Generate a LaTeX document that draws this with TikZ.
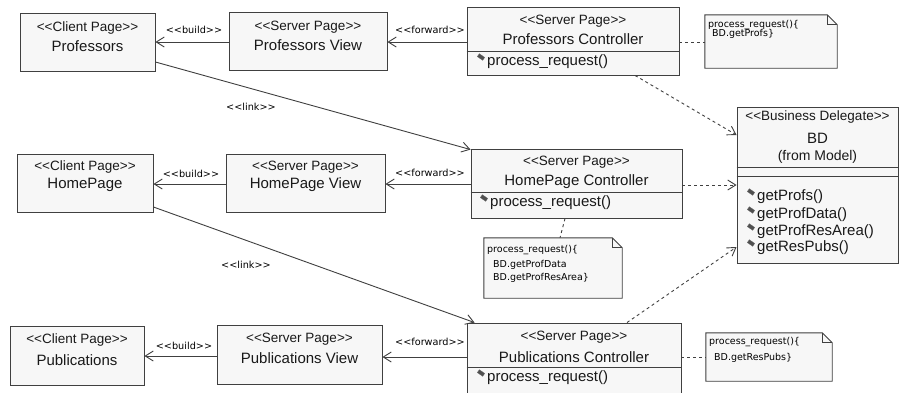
\documentclass[tikz,border=0pt]{standalone}
\usepackage{fontspec}
\usetikzlibrary{arrows.meta}
\newfontfamily\nmfont{Liberation Sans}
\newfontfamily\smfont{DejaVu Sans}
\definecolor{bg}{HTML}{F7F7F7}
\definecolor{lc}{HTML}{404040}
\definecolor{ic}{HTML}{505050}
\tikzset{
  box/.style={draw=lc, fill=bg, line width=0.9pt, inner sep=0pt, rectangle},
  st/.style={font=\nmfont\fontsize{13.5}{15}\selectfont, inner sep=0pt, text=black!90},
  nm/.style={font=\nmfont\fontsize{15}{17}\selectfont, inner sep=0pt, text=black!90},
  mt/.style={font=\nmfont\fontsize{15}{17}\selectfont, inner sep=0pt, anchor=west, text=black!90},
  sm/.style={font=\smfont\fontsize{9.7}{11}\selectfont, inner sep=0pt, text=black},
  nt/.style={font=\smfont\fontsize{9.5}{11}\selectfont, inner sep=0pt, anchor=west, text=black},
  icon/.style={fill=ic, draw=black!60, line width=0.3pt, minimum width=6.5pt, minimum height=3.5pt, inner sep=0pt, rotate=-35},
  notebg/.style={rectangle, inner sep=0pt, draw=none},
  noteline/.style={draw=lc, fill=bg, line width=0.9pt, line join=miter},
  arr/.style={draw=lc, line width=0.9pt, -{Straight Barb[length=8pt,width=10pt]}},
  darr/.style={draw=lc, line width=0.9pt, dash pattern=on 3pt off 3pt, -{Straight Barb[length=8pt,width=10pt]}},
  dln/.style={draw=lc, line width=0.9pt, dash pattern=on 3pt off 3pt},
  sep/.style={draw=lc, line width=0.9pt}
}
\begin{document}
\begin{tikzpicture}[x=1pt,y=-1pt]
\useasboundingbox[fill=white] (0,0) rectangle (905,392);
% ---- row 1
\node[box, minimum width=135, minimum height=58] (cp1) at (87.5,42) {};
\node[st] (cp1s) at (87.5,28) {<<Client Page>>};
\node[nm] (cp1n) at (87.5,46) {Professors};
\node[box, minimum width=158, minimum height=58] (sv1) at (308,41) {};
\node[st] (sv1s) at (308,27) {<<Server Page>>};
\node[nm] (sv1n) at (308,45) {Professors View};
\node[box, minimum width=212, minimum height=68] (ct1) at (573,41) {};
\draw[sep] (ct1.west |- 0,51) coordinate (d1a) -- (ct1.east |- 0,51) coordinate (d1b);
\node[st] (ct1s) at (573,21) {<<Server Page>>};
\node[nm] (ct1n) at (573,39) {Professors Controller};
\node[icon] (ic1) at (481,57) {};
\node[mt] (ct1m) at (487,62) {process\_request()};
% note 1
\node[notebg, minimum width=132, minimum height=53] (n1) at (771,41.5) {};
\draw[noteline] (n1.south west) -- (n1.north west) -- ([xshift=-10pt]n1.north east) -- ([yshift=-10pt]n1.north east) -- (n1.south east) -- cycle;
\draw[sep] ([xshift=-10pt]n1.north east) -- ([xshift=-10pt,yshift=-10pt]n1.north east) -- ([yshift=-10pt]n1.north east);
\node[nt] (n1a) at (708,25) {process\_request()\{};
\node[nt] (n1b) at (712,34) {BD.getProfs\}};
% ---- BD
\node[box, minimum width=161, minimum height=156] (bd) at (817.5,185) {};
\draw[sep] (bd.west |- 0,167) -- (bd.east |- 0,167);
\draw[sep] (bd.west |- 0,176) -- (bd.east |- 0,176);
\node[st] (bds) at (817.5,117) {<<Business Delegate>>};
\node[nm] (bdn) at (817.5,138) {BD};
\node[st, font=\nmfont\fontsize{14}{16}\selectfont] (bdf) at (817.5,157) {(from Model)};
\node[icon] (ib1) at (751,192) {};
\node[mt] (bm1) at (757,197) {getProfs()};
\node[icon] (ib2) at (751,210) {};
\node[mt] (bm2) at (757,215) {getProfData()};
\node[icon] (ib3) at (751,227) {};
\node[mt] (bm3) at (757,232) {getProfResArea()};
\node[icon] (ib4) at (751,243) {};
\node[mt] (bm4) at (757,248) {getResPubs()};
% ---- row 2
\node[box, minimum width=136, minimum height=58] (cp2) at (85,183) {};
\node[st] (cp2s) at (85,167) {<<Client Page>>};
\node[nm] (cp2n) at (85,185) {HomePage};
\node[box, minimum width=159, minimum height=58] (sv2) at (305.5,183) {};
\node[st] (sv2s) at (305.5,167) {<<Server Page>>};
\node[nm] (sv2n) at (305.5,185) {HomePage View};
\node[box, minimum width=211, minimum height=69] (ct2) at (576.5,183.5) {};
\draw[sep] (ct2.west |- 0,192) -- (ct2.east |- 0,192);
\node[st] (ct2s) at (576.5,162) {<<Server Page>>};
\node[nm] (ct2n) at (576.5,182) {HomePage Controller};
\node[icon] (ic2) at (484,198) {};
\node[mt] (ct2m) at (490,203) {process\_request()};
% note 2
\node[notebg, minimum width=138, minimum height=60] (n2) at (553,268) {};
\draw[noteline] (n2.south west) -- (n2.north west) -- ([xshift=-10pt]n2.north east) -- ([yshift=-10pt]n2.north east) -- (n2.south east) -- cycle;
\draw[sep] ([xshift=-10pt]n2.north east) -- ([xshift=-10pt,yshift=-10pt]n2.north east) -- ([yshift=-10pt]n2.north east);
\node[nt] (n2a) at (487,250) {process\_request()\{};
\node[nt] (n2b) at (493,265) {BD.getProfData};
\node[nt] (n2c) at (493,278) {BD.getProfResArea\}};
% ---- row 3
\node[box, minimum width=134, minimum height=59] (cp3) at (77,355.5) {};
\node[st] (cp3s) at (77,340) {<<Client Page>>};
\node[nm] (cp3n) at (77,360) {Publications};
\node[box, minimum width=165, minimum height=59] (sv3) at (299.5,354.5) {};
\node[st] (sv3s) at (299.5,339) {<<Server Page>>};
\node[nm] (sv3n) at (299.5,358) {Publications View};
\node[box, minimum width=214, minimum height=77] (ct3) at (574,361.5) {};
\draw[sep] (ct3.west |- 0,367) -- (ct3.east |- 0,367);
\node[st] (ct3s) at (574,337) {<<Server Page>>};
\node[nm] (ct3n) at (574,357) {Publications Controller};
\node[icon] (ic3) at (481,373) {};
\node[mt] (ct3m) at (487,378) {process\_request()};
% note 3
\node[notebg, minimum width=126, minimum height=48] (n3) at (769,357) {};
\draw[noteline] (n3.south west) -- (n3.north west) -- ([xshift=-10pt]n3.north east) -- ([yshift=-10pt]n3.north east) -- (n3.south east) -- cycle;
\draw[sep] ([xshift=-10pt]n3.north east) -- ([xshift=-10pt,yshift=-10pt]n3.north east) -- ([yshift=-10pt]n3.north east);
\node[nt] (n3a) at (709,342) {process\_request()\{};
\node[nt] (n3b) at (714,358) {BD.getResPubs\}};
% ---- connectors
\draw[arr] ([yshift=-1pt]sv1.west) -- ([yshift=-1pt]sv1.west -| cp1.east);
\draw[arr] ([yshift=-1pt]sv1.east -| ct1.west) -- ([yshift=-1pt]sv1.east);
\draw[arr] ([yshift=-1pt]sv2.west) -- ([yshift=-1pt]sv2.west -| cp2.east);
\draw[arr] ([yshift=-1pt]sv2.east -| ct2.west) -- ([yshift=-1pt]sv2.east);
\draw[arr] ([yshift=-1.5pt]sv3.west) -- ([yshift=-1.5pt]sv3.west -| cp3.east);
\draw[arr] ([yshift=-2.5pt]sv3.east -| ct3.west) -- ([yshift=-2.5pt]sv3.east);
\draw[arr] ([yshift=-20pt]cp1.east) -- ([yshift=-1pt]ct2.north west);
\draw[arr] ([yshift=-24pt]cp2.east) -- ([xshift=8pt]ct3.north west);
\draw[darr] ([xshift=62pt]ct1.south) -- ([yshift=50pt]bd.west);
\draw[darr] ([yshift=-1.5pt]ct2.east) -- ([yshift=-1.5pt]ct2.east -| bd.west);
\draw[darr] ([xshift=53pt]ct3.north) -- ([yshift=-62pt]bd.west);
\draw[dln] ([yshift=-1pt]ct1.east) -- ([yshift=-1pt]ct1.east -| n1.west);
\draw[dln] ([xshift=-11.5pt]ct2.south) -- ([xshift=7pt]n2.north);
\draw[dln] (n3.west -| ct3.east) -- (n3.west);
% ---- labels
\node[sm] (lb1) at (194,30) {<<build>>};
\node[sm] (lf1) at (430,30) {<<forward>>};
\node[sm] (lb2) at (191,174) {<<build>>};
\node[sm] (lf2) at (430,173) {<<forward>>};
\node[sm] (lb3) at (184,346) {<<build>>};
\node[sm] (lf3) at (430,342) {<<forward>>};
\node[sm] (ll1) at (251,107) {<<link>>};
\node[sm] (ll2) at (246,265) {<<link>>};
\end{tikzpicture}
\end{document}
